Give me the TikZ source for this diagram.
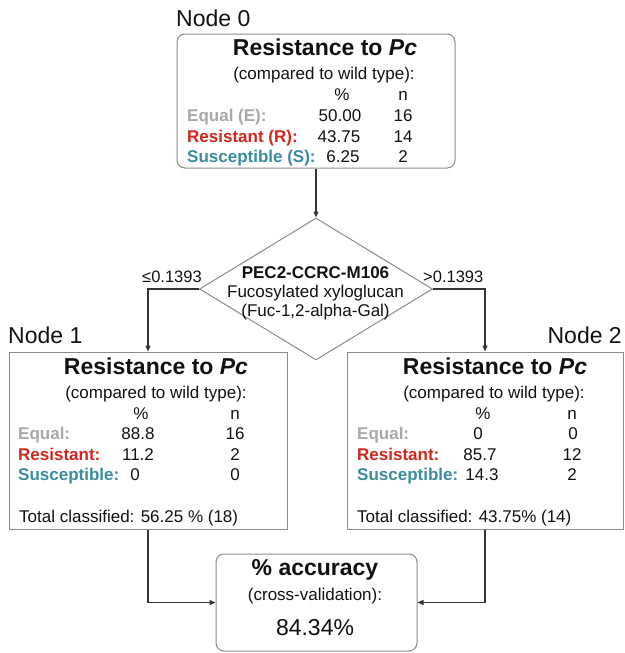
\documentclass[tikz,border=0pt]{standalone}
\usepackage{fontspec}
\setmainfont{Liberation Sans}
\usetikzlibrary{shapes.geometric,arrows.meta}
\definecolor{eqgray}{HTML}{A8A8A8}
\definecolor{resred}{HTML}{D0261C}
\definecolor{susteal}{HTML}{3A8C9E}
\definecolor{boxline}{HTML}{8A8A8A}
\definecolor{conline}{HTML}{333333}
\definecolor{ink}{HTML}{111111}
\tikzset{
  rbox/.style={draw=boxline, line width=1pt, rounded corners=8pt, inner sep=0pt},
  sbox/.style={draw=boxline, line width=1pt, inner sep=0pt},
  split/.style={draw=boxline, line width=1pt, shape=diamond, inner sep=0pt},
  conn/.style={draw=conline, line width=1.3pt, -{Triangle[length=6pt,width=5pt]}},
  big/.style={font=\fontsize{23}{27}\selectfont, text=ink, inner sep=0pt},
  bigb/.style={font=\fontsize{23}{27}\selectfont\bfseries, text=ink, inner sep=0pt},
  txt/.style={font=\fontsize{17}{20}\selectfont, text=ink, inner sep=0pt},
  txtb/.style={font=\fontsize{17}{20}\selectfont\bfseries, text=ink, inner sep=0pt},
  lab/.style={font=\fontsize{17}{20}\selectfont\bfseries, inner sep=0pt, anchor=base west},
}
\begin{document}
\begin{tikzpicture}[x=1pt,y=-1pt]
\useasboundingbox (0,0) rectangle (624,653);

% boxes
\node[rbox, minimum width=278pt, minimum height=134pt] (n0) at (316,101) {};
\node[split, minimum width=233pt, minimum height=142pt] (dec) at (316,289) {};
\node[sbox, minimum width=278pt, minimum height=177pt] (n1) at (148,440.5) {};
\node[sbox, minimum width=276pt, minimum height=177pt] (n2) at (485,440.5) {};
\node[rbox, minimum width=201pt, minimum height=97pt] (acc) at (316.5,602.5) {};

% connectors
\draw[conn] (n0.south) -- (dec.north);
\draw[conn] (dec.west) -| (n1.north);
\draw[conn] (dec.east) -| (n2.north);
\draw[conn] (n1.south) |- (acc.west);
\draw[conn] (n2.south) |- (acc.east);

% node titles
\node[big, anchor=base west] (t0) at (176,27) {Node 0};
\node[big, anchor=base west] (t1) at (8,343) {Node 1};
\node[big, anchor=base east] (t2) at (622,343) {Node 2};

% node 0 contents
\node[bigb, anchor=base] (h0) at (325,55) {Resistance to \textit{Pc}};
\node[txt, anchor=base] (c0) at (324,79) {(compared to wild type):};
\node[txt, anchor=base] (p0) at (342,100) {\%};
\node[txt, anchor=base] (k0) at (403,100) {n};
\node[lab, text=eqgray] (e0) at (187,121) {Equal (E):};
\node[lab, text=resred] (r0) at (187,142) {Resistant (R):};
\node[lab, text=susteal] (s0) at (187,162) {Susceptible (S):};
\node[txt, anchor=base] (ev0) at (340,121) {50.00};
\node[txt, anchor=base] (rv0) at (339,142) {43.75};
\node[txt, anchor=base] (sv0) at (343,162) {6.25};
\node[txt, anchor=base] (en0) at (403,121) {16};
\node[txt, anchor=base] (rn0) at (403,142) {14};
\node[txt, anchor=base] (sn0) at (403,162) {2};

% split condition
\node[txtb, anchor=base] (d1) at (315.5,278) {PEC2-CCRC-M106};
\node[txt, anchor=base] (d2) at (315.5,297) {Fucosylated xyloglucan};
\node[txt, anchor=base] (d3) at (315.5,316) {(Fuc-1,2-alpha-Gal)};
\node[txt, anchor=base west, font=\fontsize{16.5}{20}\selectfont] (le) at (142,282) {≤0.1393};
\node[txt, anchor=base west, font=\fontsize{16.5}{20}\selectfont] (gt) at (423,282) {>0.1393};

% node 1 contents
\node[bigb, anchor=base] (h1) at (156,374) {Resistance to \textit{Pc}};
\node[txt, anchor=base] (c1) at (156,398) {(compared to wild type):};
\node[txt, anchor=base] (p1) at (141,419) {\%};
\node[txt, anchor=base] (k1) at (235,419) {n};
\node[lab, text=eqgray] (e1) at (18,439) {Equal:};
\node[lab, text=resred] (r1) at (18,460) {Resistant:};
\node[lab, text=susteal] (s1) at (18,480) {Susceptible:};
\node[txt, anchor=base] (ev1) at (138,439) {88.8};
\node[txt, anchor=base] (rv1) at (138,460) {11.2};
\node[txt, anchor=base] (sv1) at (135,480) {0};
\node[txt, anchor=base] (en1) at (235,439) {16};
\node[txt, anchor=base] (rn1) at (235,460) {2};
\node[txt, anchor=base] (sn1) at (235,480) {0};
\node[txt, anchor=base west] (tc1) at (19,522) {Total classified: 56.25 \% (18)};

% node 2 contents
\node[bigb, anchor=base] (h2) at (495,374) {Resistance to \textit{Pc}};
\node[txt, anchor=base] (c2) at (494,398) {(compared to wild type):};
\node[txt, anchor=base] (p2) at (483,419) {\%};
\node[txt, anchor=base] (k2) at (572,419) {n};
\node[lab, text=eqgray] (e2) at (357,439) {Equal:};
\node[lab, text=resred] (r2) at (357,460) {Resistant:};
\node[lab, text=susteal] (s2) at (357,480) {Susceptible:};
\node[txt, anchor=base] (ev2) at (478,439) {0};
\node[txt, anchor=base] (rv2) at (480,460) {85.7};
\node[txt, anchor=base] (sv2) at (482,480) {14.3};
\node[txt, anchor=base] (en2) at (573,439) {0};
\node[txt, anchor=base] (rn2) at (572,460) {12};
\node[txt, anchor=base] (sn2) at (572,480) {2};
\node[txt, anchor=base west] (tc2) at (357,522) {Total classified: 43.75\% (14)};

% accuracy box contents
\node[bigb, anchor=base] (a1) at (315,575) {\% accuracy};
\node[txt, anchor=base] (a2) at (315,600) {(cross-validation):};
\node[big, anchor=base] (a3) at (315,635) {84.34\%};
\end{tikzpicture}
\end{document}
